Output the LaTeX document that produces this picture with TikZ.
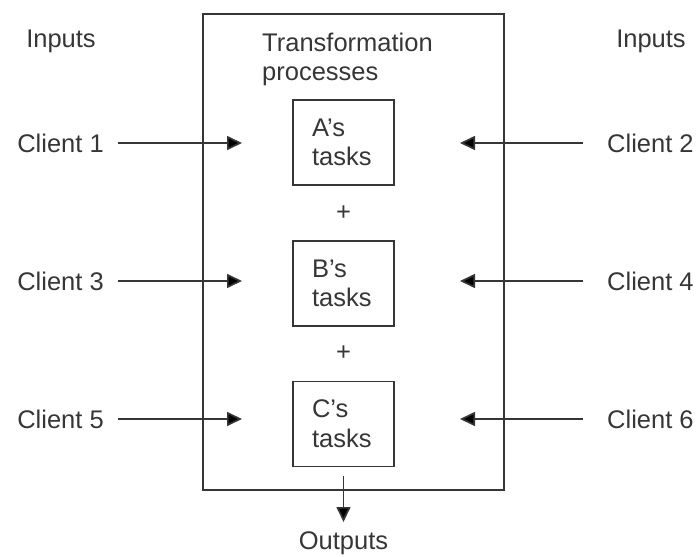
\documentclass[tikz,border=0pt]{standalone}
\usepackage{fontspec}
\setmainfont{Liberation Sans}
\usetikzlibrary{arrows.meta,calc,positioning}
\definecolor{inkgray}{HTML}{363636}
\tikzset{
  txt/.style={text=inkgray,font=\fontsize{25.5}{29.5}\selectfont,inner sep=0pt},
  task/.style={txt,draw=inkgray,line width=1.7pt,text width=63pt,inner xsep=19pt,minimum height=85pt,align=left},
  lclient/.style={txt,inner xsep=14pt},
  rclient/.style={txt,inner xsep=24pt},
  flow/.style={->,draw=inkgray,line width=1.7pt}
}

\begin{document}
\begin{tikzpicture}[x=1pt,y=-1pt,>={Triangle[length=15pt,width=14pt]},node distance=54pt]
	\useasboundingbox (0,0) rectangle (697,557);
	\node[draw=inkgray,line width=1.7pt,minimum width=301pt,minimum height=476pt,inner sep=0pt] (proc) at (353.3,252) {};
	\node[txt,anchor=west,align=left] (title) at (262,59.5) {Transformation\\processes};
	\node[txt] (in_l) at (61,41.5) {Inputs};
	\node[txt] (in_r) at (651,41.5) {Inputs};
	\node[task] (t_a) at (343.5,142.5) {A’s\\tasks};
	\node[task] [below=of t_a] (t_b) {B’s\\tasks};
	\node[task] [below=of t_b] (t_c) {C’s\\tasks};
	\node[txt] (plus_1) at ($(t_a.south)!0.5!(t_b.north)$) {+};
	\node[txt] (plus_2) at ($(t_b.south)!0.5!(t_c.north)$) {+};
	\node[lclient,anchor=east] (c_1) at (118,143) {Client 1};
	\node[rclient,anchor=west] (c_2) at (583,143) {Client 2};
	\node[lclient,anchor=east] (c_3) at (118,281) {Client 3};
	\node[rclient,anchor=west] (c_4) at (583,281) {Client 4};
	\node[lclient,anchor=east] (c_5) at (118,419) {Client 5};
	\node[rclient,anchor=west] (c_6) at (583,419) {Client 6};
	\node[txt,anchor=north,inner ysep=9pt] (outp) at (343.5,522) {Outputs};
	% arrow tips inside the process box
	\coordinate (tip_1) at (242,143);
	\coordinate (tip_2) at (460,143);
	\coordinate (tip_3) at (242,281);
	\coordinate (tip_4) at (460,281);
	\coordinate (tip_5) at (242,419);
	\coordinate (tip_6) at (460,419);
	\path[flow]
		(c_1) edge (tip_1)
		(c_2) edge (tip_2)
		(c_3) edge (tip_3)
		(c_4) edge (tip_4)
		(c_5) edge (tip_5)
		(c_6) edge (tip_6)
		(t_c) edge [shorten <=9pt] (outp);
\end{tikzpicture}
\end{document}
